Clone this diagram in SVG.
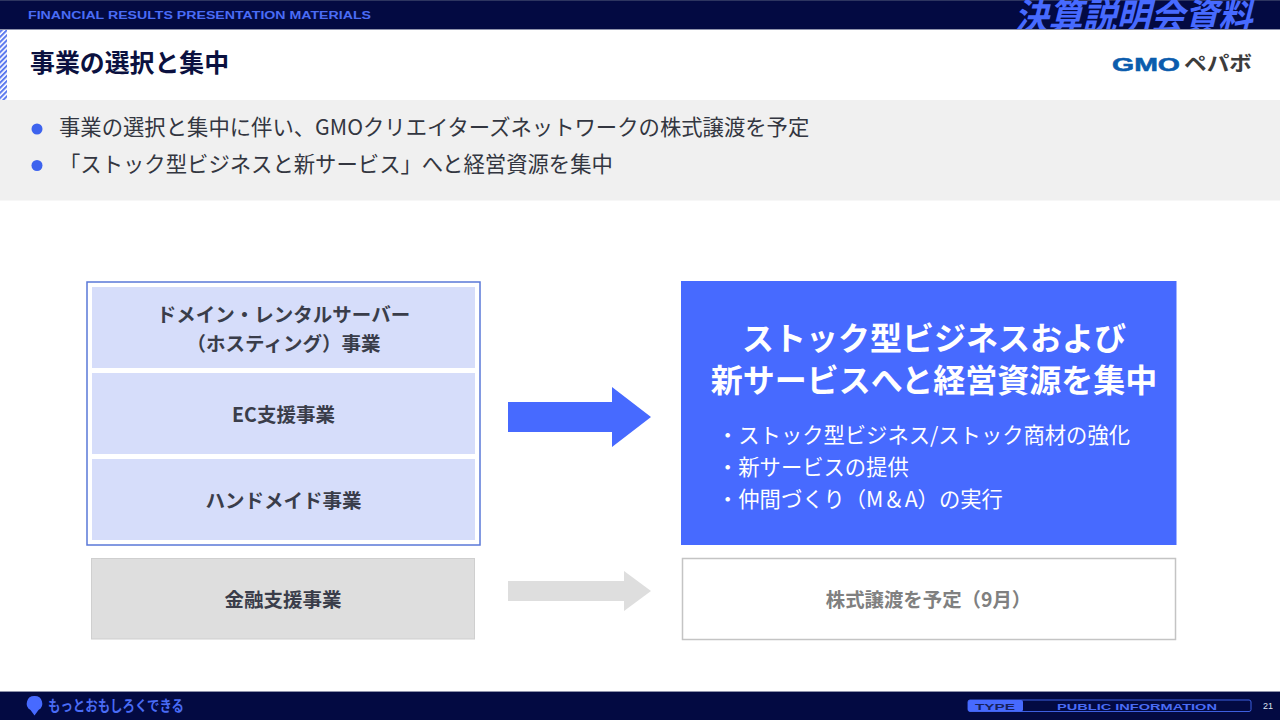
<svg xmlns="http://www.w3.org/2000/svg" width="1280" height="720" viewBox="0 0 1280 720">
<style>
.jp{font-family:"Noto Sans CJK JP","Noto Sans",sans-serif}
.lbl{font-family:"Noto Sans CJK JP","Noto Sans",sans-serif;font-weight:700;font-size:19.5px;fill:#3a3d4a;text-anchor:middle}
.bul{font-family:"Noto Sans CJK JP","Noto Sans",sans-serif;font-size:21.35px;fill:#333640}
.side{font-family:"Noto Sans CJK JP","Noto Sans",sans-serif;font-size:21.3px;fill:#fff}
.big{font-family:"Noto Sans CJK JP","Noto Sans",sans-serif;font-weight:700;font-size:32px;fill:#fff;text-anchor:middle}
.wide{font-family:"Liberation Sans",Arial,sans-serif;font-weight:700;fill:#4a6cf5}
.tile{fill:#d6ddfa}
</style>
<defs>
<pattern id="hatch" width="3.6" height="3.6" patternUnits="userSpaceOnUse" patternTransform="rotate(-45)">
<rect width="3.6" height="3.6" fill="#fff"/><rect width="3.6" height="2" fill="#5a78ee"/>
</pattern>
<clipPath id="topclip"><rect x="0" y="0" width="1280" height="29"/></clipPath>
</defs>
<rect width="1280" height="720" fill="#fff"/>
<g id="header">
<rect x="0" y="0" width="1280" height="29" fill="#030a42"/>
<rect x="0" y="0" width="1280" height="1" fill="#2d3560"/>
<rect x="0" y="29" width="1280" height="1" fill="#8f93ab"/>
<text class="wide" x="28" y="18.5" font-size="10" textLength="343" lengthAdjust="spacingAndGlyphs">FINANCIAL RESULTS PRESENTATION MATERIALS</text>
<g clip-path="url(#topclip)"><text class="jp" transform="translate(1014,30) skewX(-14)" font-size="37" font-weight="700" fill="#476aff" textLength="238" lengthAdjust="spacingAndGlyphs">決算説明会資料</text></g>
<rect x="0" y="30" width="7" height="70" fill="url(#hatch)"/>
<text class="jp" x="30" y="72" font-size="24.9" font-weight="700" fill="#0b1140">事業の選択と集中</text>
</g>
<g id="logo">
<text x="1112" y="71" font-family="Liberation Sans,Arial,sans-serif" font-weight="700" font-size="18" fill="#0b5cad" stroke="#0b5cad" stroke-width="0.5" textLength="68" lengthAdjust="spacingAndGlyphs">GMO</text>
<text class="jp" x="1184" y="71" font-size="20" font-weight="700" fill="#3c3c3c" textLength="68" lengthAdjust="spacingAndGlyphs">ペパボ</text>
</g>
<g id="summary">
<rect x="0" y="100" width="1280" height="100.500" fill="#f0f0f0"/>
<circle cx="37" cy="129" r="5.500" fill="#3d63ee"/>
<circle cx="37" cy="165.500" r="5.500" fill="#3d63ee"/>
<text class="bul" x="59" y="135">事業の選択と集中に伴い、GMOクリエイターズネットワークの株式譲渡を予定</text>
<text class="bul" x="59" y="172">「ストック型ビジネスと新サービス」へと経営資源を集中</text>
</g>
<g id="left-group">
<rect x="87" y="282" width="393" height="263" fill="#fff" stroke="#5a78d8" stroke-width="1.500"/>
</g>
<g id="hosting">
<rect class="tile" x="92" y="287" width="383" height="81"/>
<text class="lbl" x="283.500" y="321.500">ドメイン・レンタルサーバー</text>
<text class="lbl" x="283.500" y="350.500">（ホスティング）事業</text>
</g>
<g id="ec">
<rect class="tile" x="92" y="373" width="383" height="81"/>
<text class="lbl" x="283.500" y="422">EC支援事業</text>
</g>
<g id="handmade">
<rect class="tile" x="92" y="459" width="383" height="81"/>
<text class="lbl" x="283.500" y="508">ハンドメイド事業</text>
</g>
<g id="finance">
<rect x="91.500" y="558.500" width="383" height="80.500" fill="#dedede" stroke="#cfcfcf"/>
<text class="lbl" x="283" y="606.500">金融支援事業</text>
</g>
<g id="connectors">
<polygon points="508,402 612,402 612,387 651,417 612,447 612,432 508,432" fill="#476aff"/>
<polygon points="508,581 624,581 624,571 651,591 624,611 624,601 508,601" fill="#dedede"/>
</g>
<g id="focus">
<rect x="681" y="281" width="495.500" height="264" fill="#476aff"/>
<text class="big" x="934" y="349.500">ストック型ビジネスおよび</text>
<text class="big" x="934" y="392">新サービスへと経営資源を集中</text>
<text class="side" x="717" y="443">・ストック型ビジネス/ストック商材の強化</text>
<text class="side" x="717" y="475">・新サービスの提供</text>
<text class="side" x="717" y="507">・仲間づくり（M＆A）の実行</text>
</g>
<g id="transfer">
<rect x="682.500" y="558.500" width="493" height="81" fill="#fff" stroke="#c4c4c4" stroke-width="1.500"/>
<text class="jp" x="924" y="606.500" font-size="19.400" font-weight="700" fill="#808080" text-anchor="middle" dx="4.500">株式譲渡を予定（9月）</text>
</g>
<g id="footer">
<rect x="0" y="692" width="1280" height="28" fill="#030a42"/>
<rect x="0" y="691" width="1280" height="1" fill="#8f93ab"/>
<path d="M34.500 696a7.500 7.500 0 0 1 4 14l-4 5.500-4-5.500a7.500 7.500 0 0 1 4-14z" fill="#476aff"/>
<text class="jp" x="48" y="711" font-size="14.500" font-weight="700" fill="#4a6cf5" textLength="136" lengthAdjust="spacingAndGlyphs">もっとおもしろくできる</text>
<rect x="968" y="700" width="283" height="11.500" rx="2" fill="none" stroke="#3d5fe0" stroke-width="1"/>
<rect x="968" y="700" width="55" height="11.500" rx="2" fill="#476aff"/>
<text class="wide" x="975" y="709.500" font-size="9.500" style="fill:#17215e" textLength="40" lengthAdjust="spacingAndGlyphs">TYPE</text>
<text class="wide" x="1057" y="709.500" font-size="9.500" textLength="160" lengthAdjust="spacingAndGlyphs">PUBLIC INFORMATION</text>
<text x="1268" y="709" font-family="Liberation Sans,Arial,sans-serif" font-size="9" fill="#dfe2f0" text-anchor="middle">21</text>
</g>
</svg>
